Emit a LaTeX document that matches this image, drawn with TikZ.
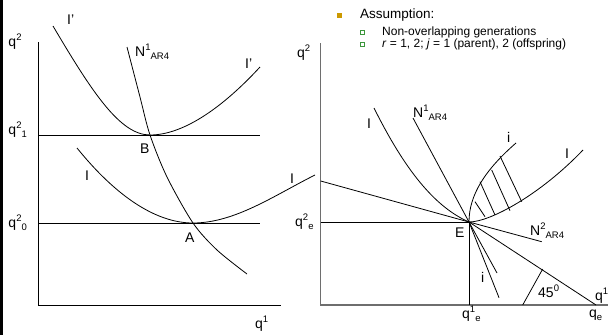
\documentclass[tikz,border=0pt]{standalone}
\usepackage{fontspec}
\setmainfont{Liberation Sans}
\definecolor{bulletgold}{RGB}{204,153,0}
\definecolor{bulletgreen}{RGB}{60,150,60}
\definecolor{axisgray}{RGB}{110,110,110}
\newcommand{\upidx}[1]{\raisebox{0.42em}{\fontsize{9.5}{10}\selectfont #1}}
\newcommand{\dnidx}[1]{\raisebox{-0.28em}{\fontsize{9.5}{10}\selectfont #1}}

\begin{document}
\begin{tikzpicture}[x=1pt, y=-1pt,
    curve/.style={black, line width=0.8pt},
    gaxis/.style={axisgray, line width=1.4pt},
    lbl/.style={anchor=base west, inner sep=0pt, font=\fontsize{14}{16}\selectfont},
    headtxt/.style={anchor=base west, inner sep=0pt, font=\fontsize{13.5}{15}\selectfont},
    subtxt/.style={anchor=base west, inner sep=0pt, font=\fontsize{12}{13}\selectfont}
]
    \useasboundingbox (0,0) rectangle (608,335);

    % Dark strip at the left edge
    \fill[black] (0,0) rectangle (3,335);

    % Left panel: axes
    \draw[curve] (38.7,42) -- (38.7,305) -- (281,305);

    % Left panel: levels q2_1 and q2_0
    \draw[curve] (38.7,135) -- (260,135);
    \draw[curve] (38.7,223) -- (260,223);

    % Indifference curve I'
    \draw[curve] (53,26) .. controls (92,92) and (120,135) .. (150,135)
        .. controls (185,135) and (225,105) .. (260,67);

    % Indifference curve I
    \draw[curve] (77,148) .. controls (115,195) and (155,223) .. (193,223)
        .. controls (235,223) and (275,195) .. (315,175);

    % Reaction curve N1
    \draw[curve] plot[smooth] coordinates {(127,47) (140,97) (150,135) (167,177) (193,223) (217,250) (247,274)};

    % Left panel labels
    \node[lbl] (qtwoL) at (8.3,46.7) {q\upidx{2}};
    \node[lbl] (qtwoone) at (8.3,134) {q\upidx{2}\dnidx{1}};
    \node[lbl] (qtwozero) at (8.3,227) {q\upidx{2}\dnidx{0}};
    \node[lbl] (qoneL) at (255,328) {q\upidx{1}};
    \node[lbl] (IpTop) at (67,24) {I’};
    \node[lbl] (IpRight) at (245,68) {I’};
    \node[lbl] (ILeft) at (85,180) {I};
    \node[lbl] (IRight) at (290,183) {I};
    \node[lbl] (ptB) at (140,153) {B};
    \node[lbl] (ptA) at (185,242) {A};
    \node[lbl] (NoneL) at (135,56) {N\upidx{1}\dnidx{AR4}};

    % Right panel: axes
    \draw[gaxis] (320.7,43) -- (320.7,305) -- (608,305);

    % Right panel: equilibrium E and its levels
    \coordinate (E) at (469,222);
    \draw[curve] (320.7,222) -- (E) -- (469,305);
    \draw[curve] (320.7,181) -- (E);
    \draw[curve] (413,118) -- (E);
    \draw[curve] (E) -- (541.7,241.7);
    \draw[curve] (E) -- (596,305);
    \draw[curve] (E) -- (497,273);
    \draw[curve] (E) -- (499,297.7);
    \draw[curve] (522.7,305) -- (542.7,269);

    % Right panel: curves I and i
    \draw[curve] (374,108) .. controls (400,160) and (430,205) .. (E)
        .. controls (490,222) and (540,195) .. (583,150);
    \draw[curve] (E) .. controls (469,195) and (485,170) .. (516,143);

    % Hatching between i and I
    \draw[curve] (475,201.7) -- (485,216.7);
    \draw[curve] (480,181.7) -- (495,215);
    \draw[curve] (491.7,170) -- (510,210.7);
    \draw[curve] (500,156) -- (521.7,201.7);

    % Right panel labels
    \node[lbl] (qtwoR) at (297,57) {q\upidx{2}};
    \node[lbl] (qtwoe) at (295,226) {q\upidx{2}\dnidx{e}};
    \node[lbl] (ptE) at (455,237) {E};
    \node[lbl] (NtwoR) at (530,235) {N\upidx{2}\dnidx{AR4}};
    \node[lbl] (NoneR) at (413,117) {N\upidx{1}\dnidx{AR4}};
    \node[lbl] (IRtop) at (367,128) {I};
    \node[lbl] (IRright) at (565,158) {I};
    \node[lbl] (iTop) at (507,142) {i};
    \node[lbl] (iLow) at (481,282) {i};
    \node[lbl] (angle) at (538,297) {45\upidx{0}};
    \node[lbl] (qonee) at (462,318) {q\upidx{1}\dnidx{e}};
    \node[lbl] (qe) at (589,317) {q\dnidx{e}};
    \node[lbl] (qoneR) at (595,300) {q\upidx{1}};

    % Assumption text
    \fill[bulletgold] (337,13) rectangle (342,18);
    \node[headtxt] (assume) at (360,18.3) {Assumption:};
    \draw[bulletgreen, line width=0.6pt] (360.5,30.5) rectangle (364.5,34.5);
    \node[subtxt] (nonover) at (382,35.5) {Non-overlapping generations};
    \draw[bulletgreen, line width=0.6pt] (360.5,42.5) rectangle (364.5,46.5);
    \node[subtxt] (rj) at (382,47.5) {\textit{r} = 1, 2; \textit{j} = 1 (parent), 2 (offspring)};

\end{tikzpicture}
\end{document}
